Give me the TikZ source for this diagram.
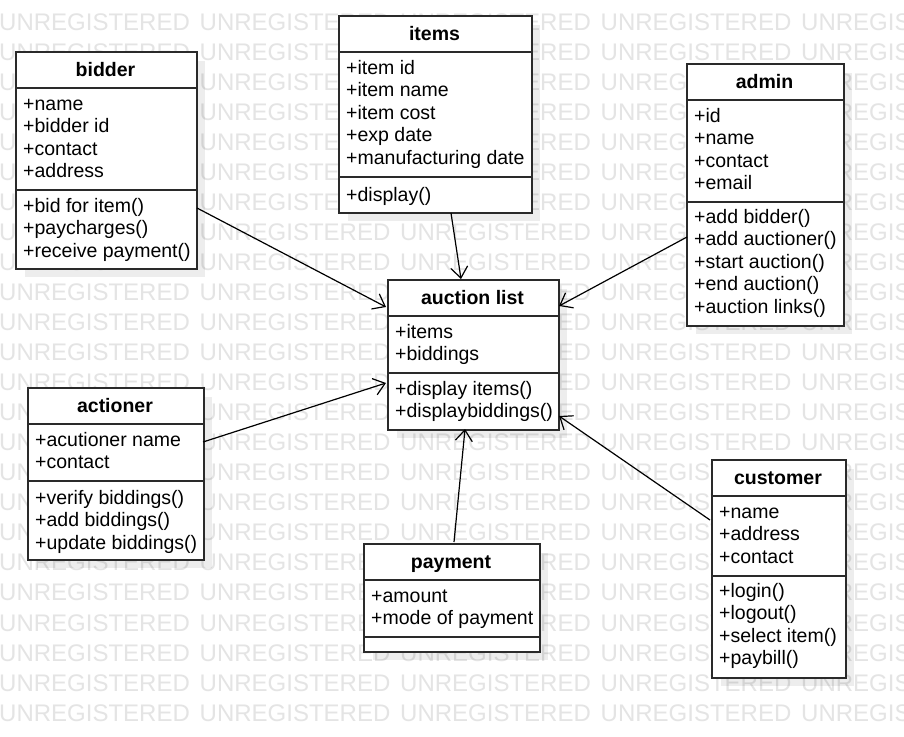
\documentclass[tikz,border=0pt]{standalone}
\usepackage{fontspec}
\setmainfont{Liberation Sans}
\usetikzlibrary{arrows.meta}
\definecolor{wmgray}{HTML}{E4E4E4}
\definecolor{boxline}{HTML}{2A2A2A}
\tikzset{
  cbox/.style={draw=boxline, fill=white, line width=1.5pt, inner sep=0pt, rectangle},
  sepline/.style={draw=boxline, line width=1.5pt},
  shadowbox/.style={fill=black, fill opacity=0.07},
  member/.style={anchor=base west, inner sep=0pt, font=\fontsize{19.5}{22.5}\selectfont},
  title/.style={anchor=base, inner sep=0pt, font=\fontsize{19.5}{22.5}\selectfont\bfseries},
  wm/.style={anchor=base west, inner sep=0pt, text=wmgray, font=\fontsize{24}{28}\selectfont},
  conn/.style={draw=black, line width=1.2pt, -{Straight Barb[length=11pt,width=17pt]}}
}
% name, x1, y1, x2, y2, header line, separator line
\newcommand{\classbox}[7]{%
  \fill[shadowbox] (#2+10,#3+10) rectangle (#4+9,#5+9);
  \node[cbox, anchor=north west, minimum width={#4-#2}, minimum height={#5-#3}] (#1) at (#2,#3) {};
  \draw[sepline] (#2,#6) -- (#4,#6);
  \draw[sepline] (#2,#7) -- (#4,#7);
}
\begin{document}
\begin{tikzpicture}[x=1pt,y=-1pt]
\useasboundingbox (0,0) rectangle (904,736);
\fill[white] (0,0) rectangle (904,736);
% watermark
\foreach \r in {0,...,23}{
  \foreach \c in {0,...,4}{
    \node[wm] (wm-\r-\c) at (\c*200.5-1, 30+\r*30.05) {UNREGISTERED};
  }
}
% ---- bidder
\classbox{bidder}{15}{51}{196}{268}{88}{190}
\node[title] (bidder-t) at (105.5,76) {bidder};
\node[member] (bidder-a1) at (23,110) {+name};
\node[member] (bidder-a2) at (23,132.5) {+bidder id};
\node[member] (bidder-a3) at (23,155) {+contact};
\node[member] (bidder-a4) at (23,177.5) {+address};
\node[member] (bidder-m1) at (23,212) {+bid for item()};
\node[member] (bidder-m2) at (23,234.5) {+paycharges()};
\node[member] (bidder-m3) at (23,257) {+receive payment()};
% ---- items
\classbox{items}{338}{15}{531}{212}{52}{177}
\node[title] (items-t) at (434.5,40) {items};
\node[member] (items-a1) at (346,74) {+item id};
\node[member] (items-a2) at (346,96.5) {+item name};
\node[member] (items-a3) at (346,119) {+item cost};
\node[member] (items-a4) at (346,141.5) {+exp date};
\node[member] (items-a5) at (346,164) {+manufacturing date};
\node[member] (items-m1) at (346,201) {+display()};
% ---- admin
\classbox{admin}{686}{63}{843}{325}{100}{202}
\node[title] (admin-t) at (764.5,88) {admin};
\node[member] (admin-a1) at (694,122) {+id};
\node[member] (admin-a2) at (694,144.5) {+name};
\node[member] (admin-a3) at (694,167) {+contact};
\node[member] (admin-a4) at (694,189.5) {+email};
\node[member] (admin-m1) at (694,223) {+add bidder()};
\node[member] (admin-m2) at (694,245.5) {+add auctioner()};
\node[member] (admin-m3) at (694,268) {+start auction()};
\node[member] (admin-m4) at (694,290.5) {+end auction()};
\node[member] (admin-m5) at (694,313) {+auction links()};
% ---- auction list
\classbox{auction}{387}{279}{558}{429}{316}{373}
\node[title] (auction-t) at (472.5,304) {auction list};
\node[member] (auction-a1) at (395,338) {+items};
\node[member] (auction-a2) at (395,360.5) {+biddings};
\node[member] (auction-m1) at (395,395) {+display items()};
\node[member] (auction-m2) at (395,417.5) {+displaybiddings()};
% ---- actioner
\classbox{actioner}{27}{387}{203}{559}{424}{481}
\node[title] (actioner-t) at (115,412) {actioner};
\node[member] (actioner-a1) at (35,446) {+acutioner name};
\node[member] (actioner-a2) at (35,468.5) {+contact};
\node[member] (actioner-m1) at (35,504) {+verify biddings()};
\node[member] (actioner-m2) at (35,526.5) {+add biddings()};
\node[member] (actioner-m3) at (35,549) {+update biddings()};
% ---- payment
\classbox{payment}{363}{543}{539}{651}{580}{637}
\node[title] (payment-t) at (451,568) {payment};
\node[member] (payment-a1) at (371,602) {+amount};
\node[member] (payment-a2) at (371,624.5) {+mode of payment};
% ---- customer
\classbox{customer}{711}{459}{845}{677}{496}{576}
\node[title] (customer-t) at (778,484) {customer};
\node[member] (customer-a1) at (719,518) {+name};
\node[member] (customer-a2) at (719,540.5) {+address};
\node[member] (customer-a3) at (719,563) {+contact};
\node[member] (customer-m1) at (719,597) {+login()};
\node[member] (customer-m2) at (719,619.5) {+logout()};
\node[member] (customer-m3) at (719,642) {+select item()};
\node[member] (customer-m4) at (719,664.5) {+paybill()};
% ---- connector end points on the box borders
\coordinate (bidder-out) at (197,208);
\coordinate (auction-in1) at (386,307);
\coordinate (items-out) at (451,213);
\coordinate (auction-in2) at (461,279);
\coordinate (admin-out) at (687,237);
\coordinate (auction-in3) at (559,306);
\coordinate (actioner-out) at (203,442);
\coordinate (auction-in4) at (386,383);
\coordinate (payment-out) at (454,542);
\coordinate (auction-in5) at (465,429);
\coordinate (customer-out) at (710,520);
\coordinate (auction-in6) at (559,416);
\draw[conn] (bidder-out) -- (auction-in1);
\draw[conn] (items-out) -- (auction-in2);
\draw[conn] (admin-out) -- (auction-in3);
\draw[conn] (actioner-out) -- (auction-in4);
\draw[conn] (payment-out) -- (auction-in5);
\draw[conn] (customer-out) -- (auction-in6);
\end{tikzpicture}
\end{document}
